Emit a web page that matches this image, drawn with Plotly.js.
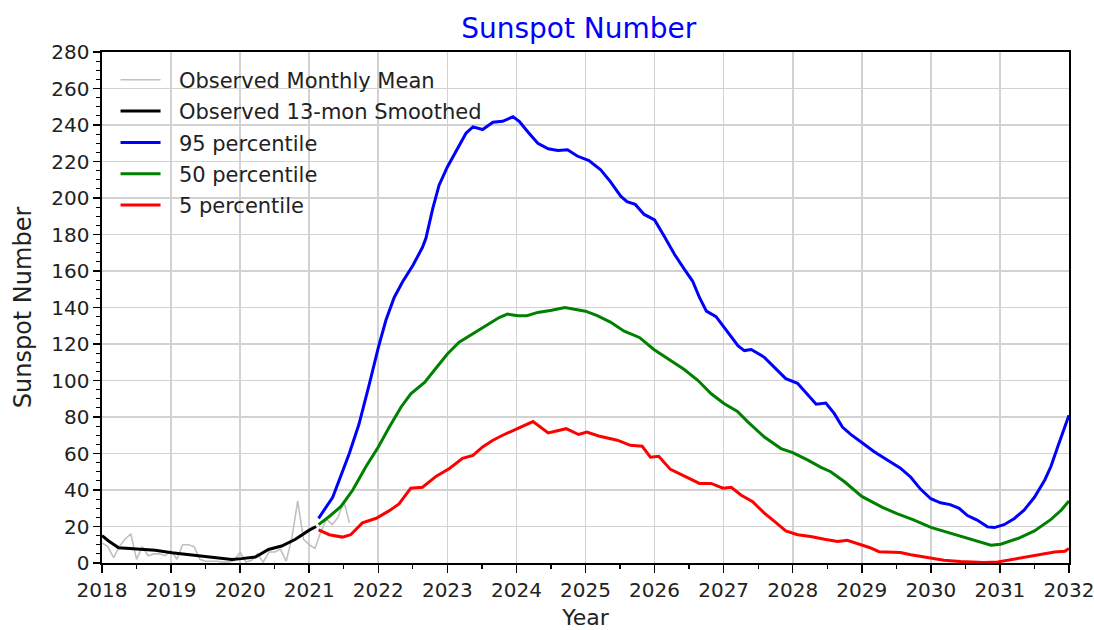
<!DOCTYPE html>
<html>
<head>
<meta charset="utf-8">
<script src="https://cdn.plot.ly/plotly-3.0.1.min.js"></script>
<style>html,body{margin:0;padding:0;background:#fff;}#chart{width:1094px;height:630px;}</style>
</head>
<body>
<div id="chart"></div>
<script>
// Observed monthly mean (2018-01 .. 2021-08)
var monthlyYears = [
  2018.000,2018.083,2018.167,2018.250,2018.333,2018.417,2018.500,2018.583,2018.667,2018.750,2018.833,2018.917,
  2019.000,2019.083,2019.167,2019.250,2019.333,2019.417,2019.500,2019.583,2019.667,2019.750,2019.833,2019.917,
  2020.000,2020.083,2020.167,2020.250,2020.333,2020.417,2020.500,2020.583,2020.667,2020.750,2020.833,2020.917,
  2021.000,2021.083,2021.167,2021.250,2021.333,2021.417,2021.500,2021.583
];
var monthlyMean = [
  11,9,3,9,13,16,2,9,4,5,5,4,
  7,2,10,10,9,2,1,1,1,0.5,0.5,1.5,
  6,0.5,1.5,5,0.5,6,6,7.5,1,14,34,13,
  10,8,17,24,21,25,34,22
];

// Observed 13-month smoothed
var smoothYears = [2018.0,2018.09,2018.24,2018.48,2018.77,2019.01,2019.3,2019.54,2019.73,2019.88,2020.02,2020.22,2020.41,2020.6,2020.8,2021.0,2021.1];
var smoothVals  = [15,12.2,8.3,7.6,7,5.6,4.3,3.3,2.6,1.9,2.4,3.3,7.4,9.3,13,18,20];

// 95 percentile
var p95Years = [2021.135,2021.34,2021.58,2021.72,2021.87,2022.0,2022.11,2022.23,2022.35,2022.5,2022.64,2022.69,2022.79,2022.88,2023.0,2023.12,2023.27,2023.37,2023.51,2023.66,2023.8,2023.95,2024.04,2024.17,2024.31,2024.46,2024.6,2024.74,2024.88,2025.05,2025.22,2025.36,2025.51,2025.6,2025.72,2025.85,2026.0,2026.14,2026.29,2026.43,2026.55,2026.65,2026.75,2026.89,2027.01,2027.11,2027.21,2027.3,2027.4,2027.59,2027.74,2027.9,2028.07,2028.19,2028.34,2028.48,2028.6,2028.72,2028.84,2029.0,2029.18,2029.37,2029.56,2029.71,2029.85,2030.0,2030.14,2030.28,2030.41,2030.53,2030.67,2030.82,2030.92,2031.06,2031.21,2031.35,2031.5,2031.65,2031.74,2031.84,2031.94,2032.0];
var p95Vals  = [24.5,36,60,76,98,118,133,145.5,154,163,173,178,194.5,207,217,225.5,235.5,239,237.5,241.5,242,244.5,242,236,230,227,226,226.4,223,220.5,215.5,209,201,198,196.5,191,188,179,169,161,154.5,145.5,138,135,129,124,119,116.4,117,112.7,107,101,98.5,93.6,87,87.6,82,74.5,70.5,66,61,56.4,52,47,40.5,35.2,33,32,30,26,23.5,19.8,19.4,21,24.4,29,36,45.5,53,64,74,81];

// 50 percentile
var p50Years = [2021.135,2021.29,2021.46,2021.63,2021.82,2022.0,2022.16,2022.33,2022.47,2022.67,2022.84,2023.0,2023.17,2023.37,2023.56,2023.75,2023.87,2024.02,2024.15,2024.31,2024.51,2024.7,2024.84,2025.0,2025.17,2025.36,2025.56,2025.78,2025.99,2026.24,2026.43,2026.63,2026.82,2027.01,2027.2,2027.35,2027.59,2027.83,2028.0,2028.22,2028.41,2028.55,2028.75,2029.0,2029.3,2029.51,2029.75,2030.0,2030.19,2030.43,2030.67,2030.87,2031.01,2031.26,2031.5,2031.74,2031.89,2032.0];
var p50Vals  = [21,25.5,31,40,52.7,63.6,74.5,85.5,92.7,99,107,114.5,121,125.5,130,134.5,136.4,135.5,135.5,137.3,138.5,140,139,138,135.5,132,127,123.6,117,111,106,100,92.7,87.3,83,77.3,69,62.7,60.5,56.4,52.4,50,44.5,36.5,30.5,27,23.6,19.5,17.3,14.4,11.6,9.7,10.3,13.4,17.6,23.9,29,34];

// 5 percentile
var p5Years = [2021.135,2021.29,2021.48,2021.6,2021.77,2021.97,2022.16,2022.3,2022.47,2022.64,2022.84,2023.03,2023.22,2023.37,2023.51,2023.66,2023.8,2023.95,2024.07,2024.24,2024.46,2024.72,2024.9,2025.02,2025.19,2025.46,2025.65,2025.82,2025.94,2026.06,2026.23,2026.43,2026.65,2026.82,2026.99,2027.11,2027.25,2027.42,2027.59,2027.74,2027.9,2028.07,2028.26,2028.46,2028.65,2028.79,2028.99,2029.11,2029.25,2029.56,2029.71,2029.95,2030.19,2030.43,2030.77,2030.97,2031.16,2031.35,2031.6,2031.79,2031.94,2032.0];
var p5Vals  = [18.2,15.5,14.2,15.5,22,24.5,28.7,32.4,41,41.5,47.6,51.8,57.3,59,63.6,67.3,70,72.5,74.5,77.5,71.3,73.6,70.4,71.8,69.6,67.3,64.5,64,58,58.5,51.3,47.6,43.6,43.6,41,41.5,37.3,33.6,27.3,22.7,17.6,15.5,14.5,13,11.8,12.4,10,8.5,6.2,5.8,4.5,2.8,1.5,0.8,0.3,0.6,1.8,2.9,4.8,6,6.4,7.9];

var seriesNames = ['Observed Monthly Mean','Observed 13-mon Smoothed','95 percentile','50 percentile','5 percentile'];
var yearTicks = [2018,2019,2020,2021,2022,2023,2024,2025,2026,2027,2028,2029,2030,2031,2032];

var FONT = 'DejaVu Sans, Liberation Sans, sans-serif';
var GAP = '\u00a0\u00a0';

var traces = [
  {x: monthlyYears, y: monthlyMean, name: GAP + seriesNames[0], legendgroup:'a', mode:'lines', line:{color:'#c0c0c0', width:1.6}},
  {x: smoothYears, y: smoothVals, name: GAP + seriesNames[1], legendgroup:'b', mode:'lines', line:{color:'#000000', width:3}},
  {x: p95Years, y: p95Vals, name: GAP + seriesNames[2], legendgroup:'c', mode:'lines', line:{color:'#0000ff', width:3}},
  {x: p50Years, y: p50Vals, name: GAP + seriesNames[3], legendgroup:'d', mode:'lines', line:{color:'#008000', width:3}},
  {x: p5Years, y: p5Vals, name: GAP + seriesNames[4], legendgroup:'e', mode:'lines', line:{color:'#ff0000', width:3}}
];

var layout = {
  width: 1094, height: 630,
  margin: {l:102, r:25, t:52, b:67, pad:0},
  paper_bgcolor:'#ffffff', plot_bgcolor:'#ffffff',
  font: {family: FONT, color:'#222222', size:20},
  title: {text:'Sunspot Number', font:{family:FONT, size:28, color:'#0000ff'}, x:0.493, xref:'paper', xanchor:'center', y:0.955, yref:'container', yanchor:'middle'},
  showlegend: true,
  legend: {x:0.014, y:0.985, xanchor:'left', yanchor:'top', bgcolor:'rgba(0,0,0,0)', borderwidth:0, font:{family:FONT, size:21, color:'#222222'}, tracegroupgap:1, itemwidth:40},
  xaxis: {
    range:[2017.9995,2032.0005], tickmode:'array', tickvals:yearTicks, ticktext:yearTicks.map(String),
    ticklabeloverflow:'allow',
    showgrid:true, gridcolor:'#d2d2d2', gridwidth:1.6,
    zeroline:false, showline:true, linecolor:'#000000', linewidth:1.6, mirror:true,
    ticks:'outside', ticklen:8, tickwidth:1.5, tickcolor:'#000000',
    minor:{tick0:2018.5, dtick:1, ticks:'outside', ticklen:4, tickwidth:1.2, tickcolor:'#000000', showgrid:false},
    tickfont:{family:FONT, size:20, color:'#222222'},
    title:{text:'Year', font:{family:FONT, size:22, color:'#222222'}, standoff:14}
  },
  yaxis: {
    range:[0,280], tick0:0, dtick:20, showgrid:true, gridcolor:'#d2d2d2', gridwidth:1.6,
    zeroline:false, showline:true, linecolor:'#000000', linewidth:1.6, mirror:true,
    ticks:'outside', ticklen:7, tickwidth:1.5, tickcolor:'#000000',
    minor:{dtick:5, ticks:'outside', ticklen:4, tickwidth:1.2, tickcolor:'#000000', showgrid:false},
    tickfont:{family:FONT, size:20, color:'#222222'},
    title:{text:'Sunspot Number', font:{family:FONT, size:24, color:'#222222'}, standoff:13}
  },
  yaxis2: {
    overlaying:'y', anchor:'x', side:'left', range:[0,280], tick0:0, dtick:20,
    showgrid:false, zeroline:false, showline:false, showticklabels:false,
    ticks:'inside', ticklen:5, tickwidth:1.5, tickcolor:'#000000'
  }
};

Plotly.newPlot('chart', traces, layout, {displayModeBar:false, staticPlot:true});
</script>
</body>
</html>
